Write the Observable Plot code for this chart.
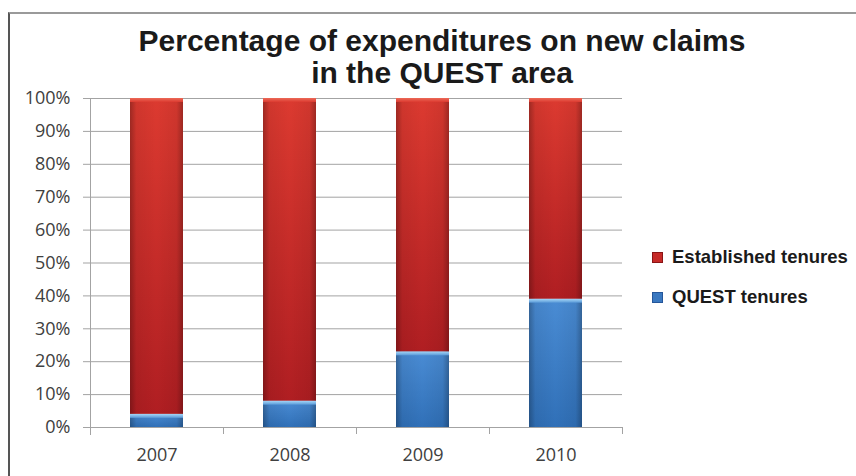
<!DOCTYPE html>
<html>
<head>
<meta charset="utf-8">
<script src="https://cdn.jsdelivr.net/npm/d3@7"></script>
<script src="https://cdn.jsdelivr.net/npm/@observablehq/plot@0.6"></script>
<style>
  html, body { margin: 0; padding: 0; background: #fff; }
  #wrap { position: relative; width: 856px; height: 476px; overflow: hidden; background: #fff; }
  #frame { position: absolute; left: 8px; top: 12px; width: 900px; height: 500px;
           border-left: 2px solid #555; border-top: 2px solid #9a9a9a; box-sizing: border-box; }
  #title { position: absolute; left: 0; width: 884px; top: 25px; text-align: center;
           font-family: "Liberation Sans", Arial, sans-serif; font-weight: bold; font-size: 30px;
           line-height: 32px; color: #1a1a1a; z-index: 2; }
  #chart { position: absolute; left: 0; top: 0; z-index: 1; }
  #legend { position: absolute; left: 652px; top: 245px; z-index: 2;
            font-family: "Liberation Sans", Arial, sans-serif; font-weight: bold; font-size: 18.5px; color: #1a1a1a; }
  .item { display: flex; align-items: center; height: 24px; margin-bottom: 16px; white-space: nowrap; }
  .sw { width: 11px; height: 11px; margin-right: 9px; box-sizing: border-box; }
</style>
</head>
<body>
<div id="wrap">
  <div id="frame"></div>
  <div id="title">Percentage of expenditures on new claims<br>in the QUEST area</div>
  <div id="chart"></div>
  <div id="legend"></div>
</div>
<script>
const years = ["2007", "2008", "2009", "2010"];
const questTenures = [4, 8, 23, 39];
const establishedTenures = [96, 92, 77, 61];
const yTicks = [0, 10, 20, 30, 40, 50, 60, 70, 80, 90, 100];
const seriesNames = ["Established tenures", "QUEST tenures"];
const seriesColors = ["#c62a28", "#3a78c0"];

const rows = years.map((year, i) => ({
  year,
  quest: questTenures[i],
  established: establishedTenures[i],
  top: questTenures[i] + establishedTenures[i]
}));

const W = 856, H = 476, mL = 90, mR = 234, mT = 98, mB = 49;
const step = (W - mL - mR) / years.length;

const grid = "#a3a3a3";
const svg = Plot.plot({
  width: W, height: H,
  marginTop: mT, marginBottom: mB, marginLeft: mL, marginRight: mR,
  style: { fontFamily: "'Open Sans', sans-serif", fontSize: "18px", color: "#404040", background: "transparent" },
  x: { domain: years, paddingInner: 0.6, paddingOuter: 0.3, axis: null },
  y: { domain: [0, 100], axis: null },
  marks: [
    Plot.gridY(yTicks, { stroke: grid, strokeOpacity: 1, strokeWidth: 1 }),
    Plot.axisY(yTicks, { tickFormat: d => d + "%", tickSize: 7, tickPadding: 13, stroke: grid, strokeOpacity: 1, fill: "#404040", fontSize: 18, label: null }),
    Plot.frame({ anchor: "left", stroke: grid, insetBottom: -7 }),
    Plot.ruleX(years, { x: d => d, dx: -step / 2, y1: 0, y2: 0, insetBottom: -7, stroke: grid }),
    Plot.ruleX([years[years.length - 1]], { x: d => d, dx: step / 2, y1: 0, y2: 0, insetBottom: -7, stroke: grid }),
    Plot.axisX(years, { tickSize: 0, tickPadding: 21, fill: "#404040", fontSize: 18, label: null }),
    // QUEST tenures (bottom segment)
    Plot.barY(rows, { x: "year", y1: 0, y2: "quest", fill: "url(#gBlue)" }),
    Plot.barY(rows, { x: "year", y1: 0, y2: "quest", fill: "url(#gEdge)" }),
    Plot.barY(rows, { x: "year", y1: "quest", y2: "quest", insetBottom: -4, fill: "url(#gBlueHi)" }),
    // Established tenures (top segment)
    Plot.barY(rows, { x: "year", y1: "quest", y2: "top", fill: "url(#gRed)" }),
    Plot.barY(rows, { x: "year", y1: "quest", y2: "top", fill: "url(#gEdge)" }),
    Plot.barY(rows, { x: "year", y1: "top", y2: "top", insetBottom: -4, fill: "url(#gRedHi)" })
  ]
});

svg.insertAdjacentHTML("afterbegin", `
<defs>
  <linearGradient id="gRed" x1="0" y1="0" x2="0" y2="1">
    <stop offset="0" stop-color="#dc3a30"/>
    <stop offset="1" stop-color="#b01e22"/>
  </linearGradient>
  <linearGradient id="gBlue" x1="0" y1="0" x2="0" y2="1">
    <stop offset="0" stop-color="#4a8cd4"/>
    <stop offset="1" stop-color="#3070b8"/>
  </linearGradient>
  <linearGradient id="gEdge" x1="0" y1="0" x2="1" y2="0">
    <stop offset="0" stop-color="#000" stop-opacity="0.28"/>
    <stop offset="0.12" stop-color="#000" stop-opacity="0.06"/>
    <stop offset="0.5" stop-color="#000" stop-opacity="0"/>
    <stop offset="0.88" stop-color="#000" stop-opacity="0.06"/>
    <stop offset="1" stop-color="#000" stop-opacity="0.28"/>
  </linearGradient>
  <linearGradient id="gBlueHi" x1="0" y1="0" x2="0" y2="1">
    <stop offset="0" stop-color="#a8d8f8"/>
    <stop offset="1" stop-color="#5a9ad8"/>
  </linearGradient>
  <linearGradient id="gRedHi" x1="0" y1="0" x2="0" y2="1">
    <stop offset="0" stop-color="#ec6a58"/>
    <stop offset="1" stop-color="#dc3a30"/>
  </linearGradient>
</defs>`);

document.getElementById("chart").appendChild(svg);

const legend = document.getElementById("legend");
seriesNames.forEach((name, i) => {
  const item = document.createElement("div");
  item.className = "item";
  const sw = document.createElement("div");
  sw.className = "sw";
  sw.style.background = seriesColors[i];
  sw.style.border = "1px solid " + (i === 0 ? "#8a1416" : "#25569a");
  const label = document.createElement("span");
  label.textContent = name;
  item.appendChild(sw);
  item.appendChild(label);
  legend.appendChild(item);
});
</script>
</body>
</html>
